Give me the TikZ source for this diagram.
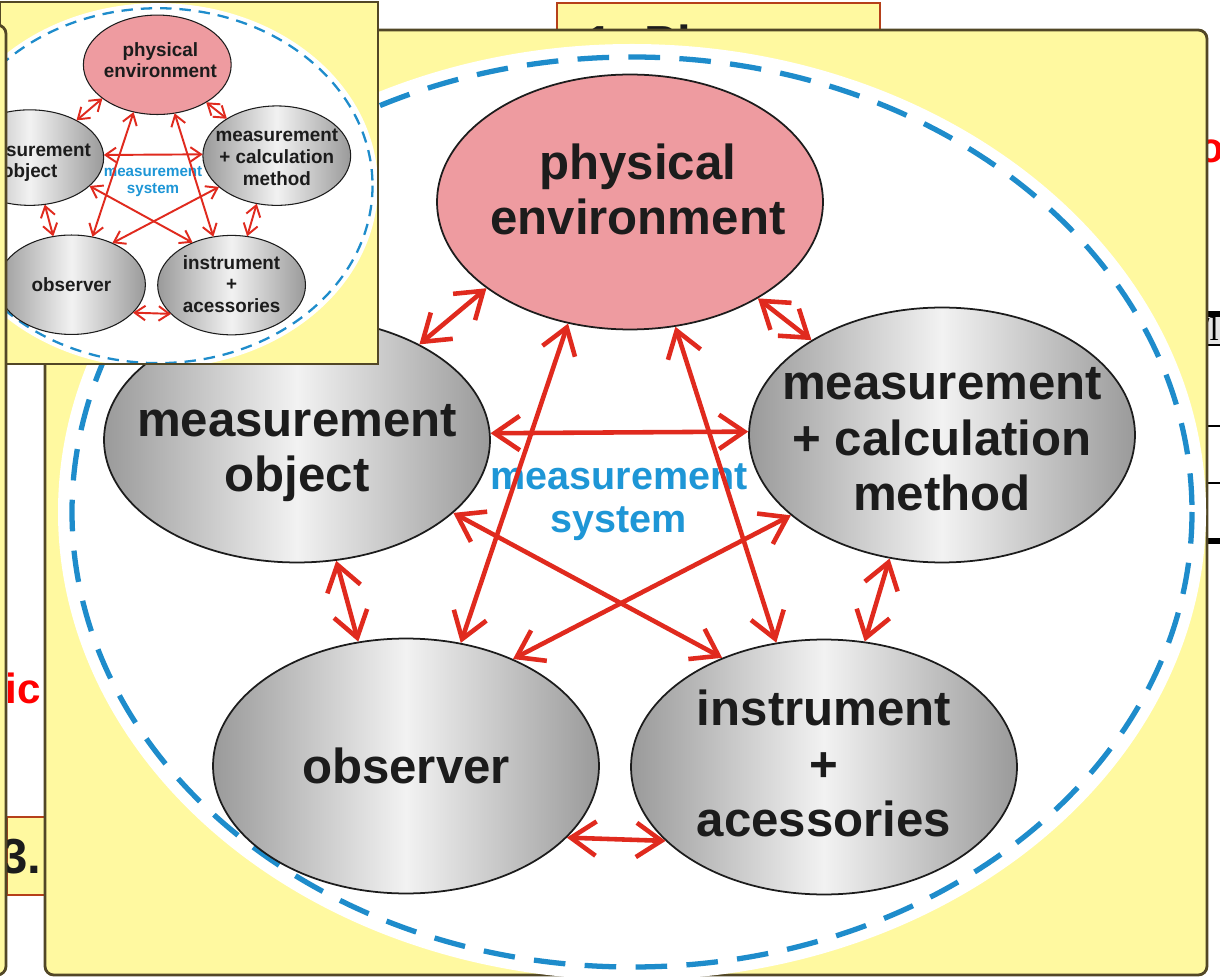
\documentclass[tikz,border=0pt]{standalone}
\usepackage{fontspec}
\setmainfont{Liberation Sans}
\newfontfamily\serifface{Liberation Serif}
\usetikzlibrary{arrows.meta, shapes.geometric}

\definecolor{panelyellow}{HTML}{FFF9A0}
\definecolor{framebrown}{HTML}{524726}
\definecolor{boxred}{HTML}{B5401A}
\definecolor{arrowred}{HTML}{E02A1E}
\definecolor{rimblue}{HTML}{1E8CCB}
\definecolor{sysblue}{HTML}{1E96D6}
\definecolor{envpink}{HTML}{EE9BA0}
\definecolor{metalgray}{HTML}{9A9A9A}
\definecolor{metallight}{HTML}{F2F2F2}
\definecolor{inkblack}{HTML}{1C1C1C}
\definecolor{cellgray}{HTML}{E4E4E4}

% the measurement system, drawn once big and once as thumbnail
\newcommand{\drawsystem}{%
  % white field with dashed rim
  \fill[white] (632,512) ellipse [x radius=574, y radius=468];
  \draw[rim] (632,512) ellipse [x radius=560, y radius=455];
  % the five parts
  \node[blob, fill=envpink, label={[tag, xshift=4.5pt, yshift=7pt]center:physical\\environment}] (phys) at (630,202) {};
  \node[blob, metal, minimum height=4.9cm, label={[tag, yshift=-7.5pt]center:measurement\\object}] (mobj) at (297,440) {};
  \node[blob, metal, label={[tag, yshift=-2.5pt]center:measurement\\+ calculation\\method}] (meth) at (942,435) {};
  \node[blob, metal, label={[tag]center:observer}] (obsv) at (406,766) {};
  \node[blob, metal, label={[tag, yshift=2pt]center:instrument\\+\\acessories}] (inst) at (824,767) {};
  \node[sys] (msys) at (619,502) {measurement\\system};
  % --- links ---
  \draw[link] (phys.211) -- (mobj.38);
  \draw[link] (phys.323) -- (meth.144);
  \draw[link] (mobj.2) -- (meth.179);
  \draw[link] (mobj.288) -- (obsv.111);
  \draw[link] (meth.247) -- (inst.72);
  \draw[link] (obsv.336) -- (inst.205);
  % crossing links
  \draw[link] (phys.243) -- (obsv.66);
  \draw[link] (phys.290) -- (inst.111);
  \draw[link] (mobj.335) -- (inst.133);
  \draw[link] (meth.208) -- (obsv.45);
}

\begin{document}
\begin{tikzpicture}[x=0.02cm, y=-0.02cm,
    panel/.style={fill=panelyellow, draw=framebrown, line width=1.6pt, rounded corners=5pt},
    backbox/.style={fill=panelyellow, draw=boxred, line width=1.1pt},
    blob/.style={draw=inkblack, line width=1pt, ellipse, inner sep=0pt, minimum width=7.72cm, minimum height=5.1cm},
    metal/.style={left color=metalgray, right color=metalgray, middle color=metallight},
    tag/.style={align=center, text=inkblack, font=\fontsize{28}{31.5}\selectfont\bfseries},
    sys/.style={align=center, text=sysblue, font=\fontsize{22.5}{24.4}\selectfont\bfseries},
    rim/.style={draw=rimblue, line width=3pt, dash pattern=on 18pt off 11pt},
    link/.style={draw=arrowred, line width=2.6pt, <->, >={Straight Barb[length=0pt 5.5, width=0pt 7.5]}}
]
\useasboundingbox (0,0) rectangle (1220,979);
\fill[white] (0,0) rectangle (1220,979);

% --- slide behind the panel ---
\draw[backbox] (557,3) rectangle (880,80);
\node[tag, anchor=base west, inner sep=0pt] (head) at (585,61) {1. Pl};
\node[anchor=base, inner sep=0pt, text=red, font=\fontsize{24}{24}\selectfont\bfseries] (ored) at (1211,163) {o};
\fill[cellgray] (1207,317) rectangle (1220,344);
\node[anchor=base west, inner sep=0pt, font=\serifface\fontsize{19}{19}\selectfont] (cell) at (1200,341) {/l};
\draw[line width=3.5pt] (1207,314) -- (1220,314);
\draw[line width=1.4pt] (1207,345) -- (1220,345);
\draw[line width=1.4pt] (1207,426) -- (1220,426);
\draw[line width=1.4pt] (1207,483) -- (1220,483);
\draw[line width=3.5pt] (1207,541) -- (1220,541);
\node[anchor=base east, inner sep=0pt, text=red, font=\fontsize{24}{24}\selectfont\bfseries] (icred) at (41,703) {ic};
\draw[backbox] (7,817) rectangle (80,895);
\node[tag, anchor=base east, inner sep=0pt] (three) at (42,873) {3.};

% --- main panel ---
\draw[panel] (45,30) rectangle (1207,975);
\drawsystem

% --- thumbnail ---
\begin{scope}
  \clip (0,2) rectangle (378,364);
  \fill[panelyellow] (0,2) rectangle (378,364);
  \begin{scope}[shift={(-84,-14)}, xscale=0.383, yscale=0.39, transform shape, name prefix=mini-,
      blob/.append style={line width=0.6pt},
      link/.append style={line width=1.1pt},
      rim/.append style={line width=1.3pt, dash pattern=on 6.5pt off 4.5pt}]
    \drawsystem
  \end{scope}
\end{scope}
\draw[framebrown, line width=1pt] (0,2) rectangle (378,364);

% left panel edge
\draw[panel] (-30,25) rectangle (6,975);
\end{tikzpicture}
\end{document}
